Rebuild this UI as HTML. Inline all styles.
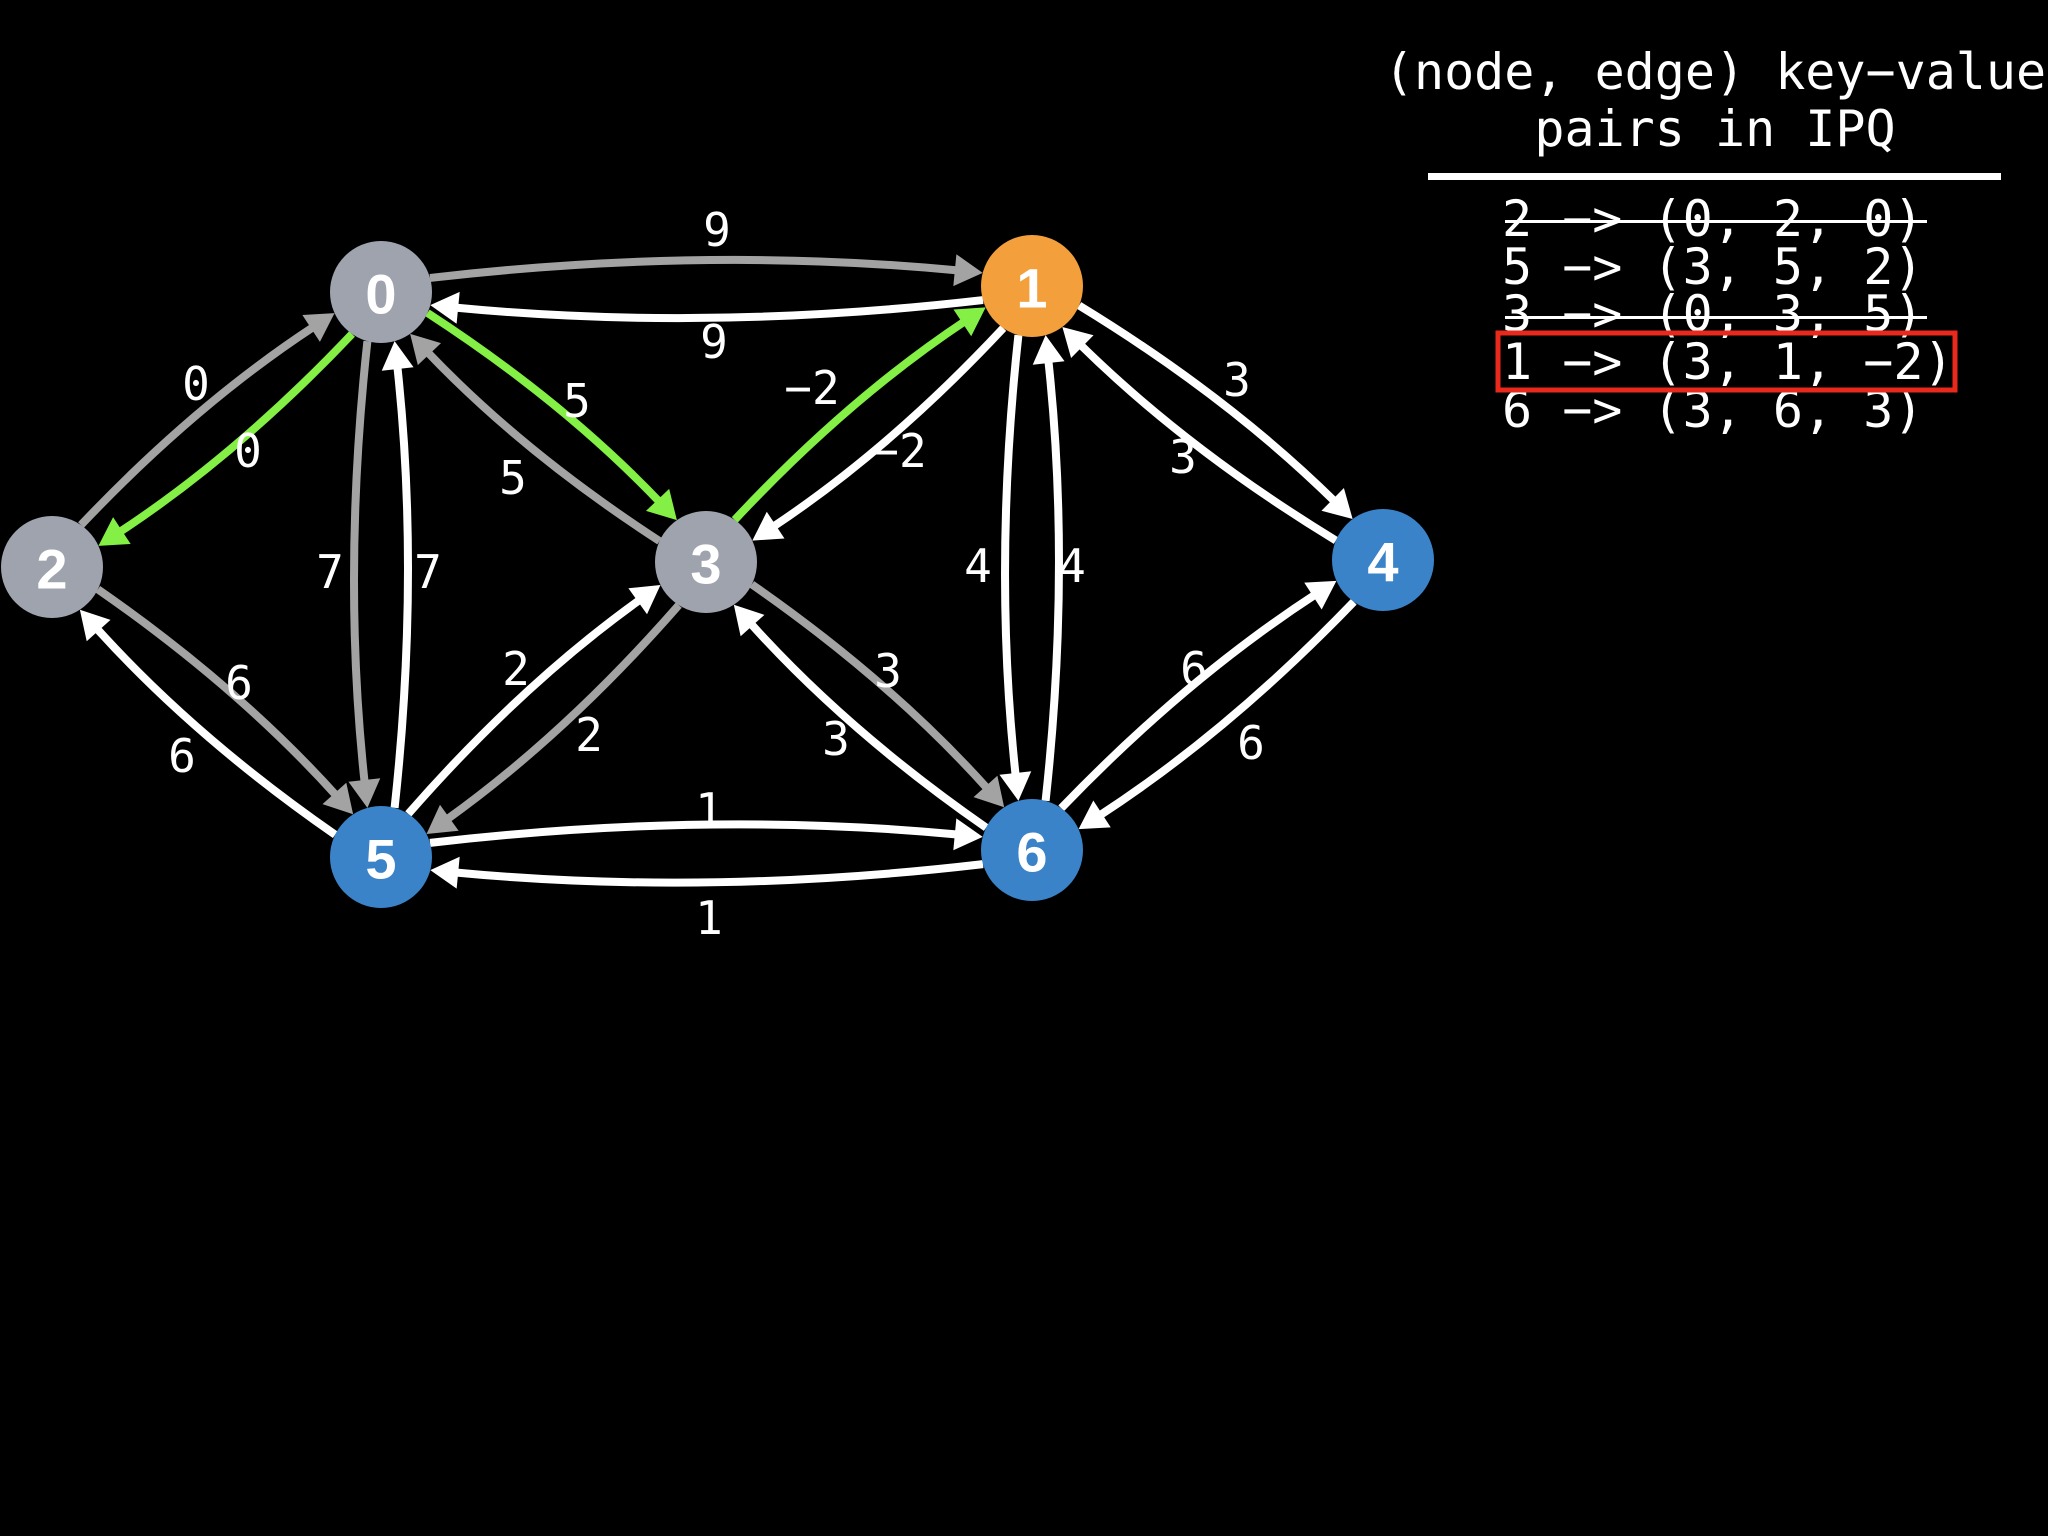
<!DOCTYPE html>
<html><head><meta charset="utf-8"><style>
html,body{margin:0;padding:0;background:#000;width:2048px;height:1536px;overflow:hidden}
svg{display:block}
.lbl{font-family:"DejaVu Sans Mono","Liberation Mono",monospace;font-size:46px;fill:#fff;text-anchor:middle;dominant-baseline:central}
.nd{font-family:"Liberation Sans",sans-serif;font-weight:bold;font-size:56px;fill:#fff;text-anchor:middle;dominant-baseline:central}
.mono{font-family:"DejaVu Sans Mono","Liberation Mono",monospace;font-size:50px;fill:#fff}
</style></head><body>
<svg id="s" width="2048" height="1536" viewBox="0 0 2048 1536" xmlns="http://www.w3.org/2000/svg">
<g id="edges"></g>
<g id="nodes"></g>
<g>
<text class="lbl" x="717" y="230">9</text>
<text class="lbl" x="714" y="342">9</text>
<text class="lbl" x="196" y="384">0</text>
<text class="lbl" x="248" y="451">0</text>
<text class="lbl" x="330" y="572">7</text>
<text class="lbl" x="428" y="572">7</text>
<text class="lbl" x="577" y="401">5</text>
<text class="lbl" x="513" y="478">5</text>
<text class="lbl" x="812" y="388">−2</text>
<text class="lbl" x="899" y="451">−2</text>
<text class="lbl" x="1237" y="380">3</text>
<text class="lbl" x="1183" y="457">3</text>
<text class="lbl" x="978" y="566">4</text>
<text class="lbl" x="1072" y="566">4</text>
<text class="lbl" x="239" y="683">6</text>
<text class="lbl" x="182" y="756">6</text>
<text class="lbl" x="516" y="669">2</text>
<text class="lbl" x="589" y="735">2</text>
<text class="lbl" x="888" y="671">3</text>
<text class="lbl" x="836" y="739">3</text>
<text class="lbl" x="1194" y="669">6</text>
<text class="lbl" x="1251" y="743">6</text>
<text class="lbl" x="709" y="810">1</text>
<text class="lbl" x="709" y="918">1</text>
</g>
<g>
<text class="mono" x="1715" y="89" text-anchor="middle">(node, edge) key−value</text>
<text class="mono" x="1715" y="146" text-anchor="middle">pairs in IPQ</text>
<rect x="1428" y="173" width="573" height="7" fill="#fff"/>
<text class="mono" x="1502" y="236">2 −&gt; (0, 2, 0)</text>
<text class="mono" x="1502" y="284">5 −&gt; (3, 5, 2)</text>
<text class="mono" x="1502" y="331">3 −&gt; (0, 3, 5)</text>
<text class="mono" x="1502" y="379">1 −&gt; (3, 1, −2)</text>
<text class="mono" x="1502" y="427">6 −&gt; (3, 6, 3)</text>
<rect x="1505" y="220" width="422" height="3" fill="#fff"/>
<rect x="1505" y="316" width="422" height="3" fill="#fff"/>
<rect x="1498" y="333" width="457" height="57" fill="none" stroke="#e8291c" stroke-width="5"/>
</g>
</svg>
<script>
var N={0:[381,292,'#9ea3ad'],1:[1032,286,'#f3a03c'],2:[52,567,'#9ea3ad'],3:[706,562,'#9ea3ad'],4:[1383,560,'#3a83c9'],5:[381,857,'#3a83c9'],6:[1032,850,'#3a83c9']};
var R=51,G='#a3a3a3',W='#ffffff',GR='#84f046';
var E=[[0,1,G,1],[1,0,W,1],[2,0,G,1],[0,2,GR,1],[0,5,G,-1],[5,0,W,-1],[0,3,GR,1],[3,0,G,1],[3,1,GR,1],[1,3,W,1],[1,4,W,1],[4,1,W,1],[1,6,W,-1],[6,1,W,-1],[2,5,G,1],[5,2,W,1],[5,3,W,1],[3,5,G,1],[3,6,G,1],[6,3,W,1],[6,4,W,1],[4,6,W,1],[5,6,W,1],[6,5,W,1]];
var ns='http://www.w3.org/2000/svg',eg=document.getElementById('edges'),ng=document.getElementById('nodes');
function el(t,a,p){var e=document.createElementNS(ns,t);for(var k in a)e.setAttribute(k,a[k]);p.appendChild(e);return e;}
E.forEach(function(e){
 var A=N[e[0]],B=N[e[1]],s=e[3];
 var dx=B[0]-A[0],dy=B[1]-A[1],L=Math.hypot(dx,dy),ux=dx/L,uy=dy/L;
 var nx=uy*s,ny=-ux*s; // left normal * s
 var ang=0.27,ca=Math.cos(ang),sa=Math.sin(ang);
 var sx=A[0]+R*(ux*ca+nx*sa),sy=A[1]+R*(uy*ca+ny*sa);
 var ex=B[0]+R*(-ux*ca+nx*sa),ey=B[1]+R*(-uy*ca+ny*sa);
 var mx=(sx+ex)/2,my=(sy+ey)/2,d=0.045*L;
 var cx=mx+nx*d,cy=my+ny*d;
 var tx=ex-cx,ty=ey-cy,tl=Math.hypot(tx,ty);tx/=tl;ty/=tl;
 var al=28,aw=16;
 var bx=ex-tx*al,by=ey-ty*al;
 el('path',{d:'M'+sx+','+sy+' Q'+cx+','+cy+' '+(bx+tx*4)+','+(by+ty*4),fill:'none',stroke:e[2],'stroke-width':8},eg);
 el('polygon',{points:ex+','+ey+' '+(bx-ty*aw)+','+(by+tx*aw)+' '+(bx+ty*aw)+','+(by-tx*aw),fill:e[2]},eg);
});
for(var k in N){var n=N[k];el('circle',{cx:n[0],cy:n[1],r:R,fill:n[2]},ng);var t=el('text',{x:n[0],y:n[1]+2,'class':'nd'},ng);t.textContent=k;}
</script>
</body></html>
